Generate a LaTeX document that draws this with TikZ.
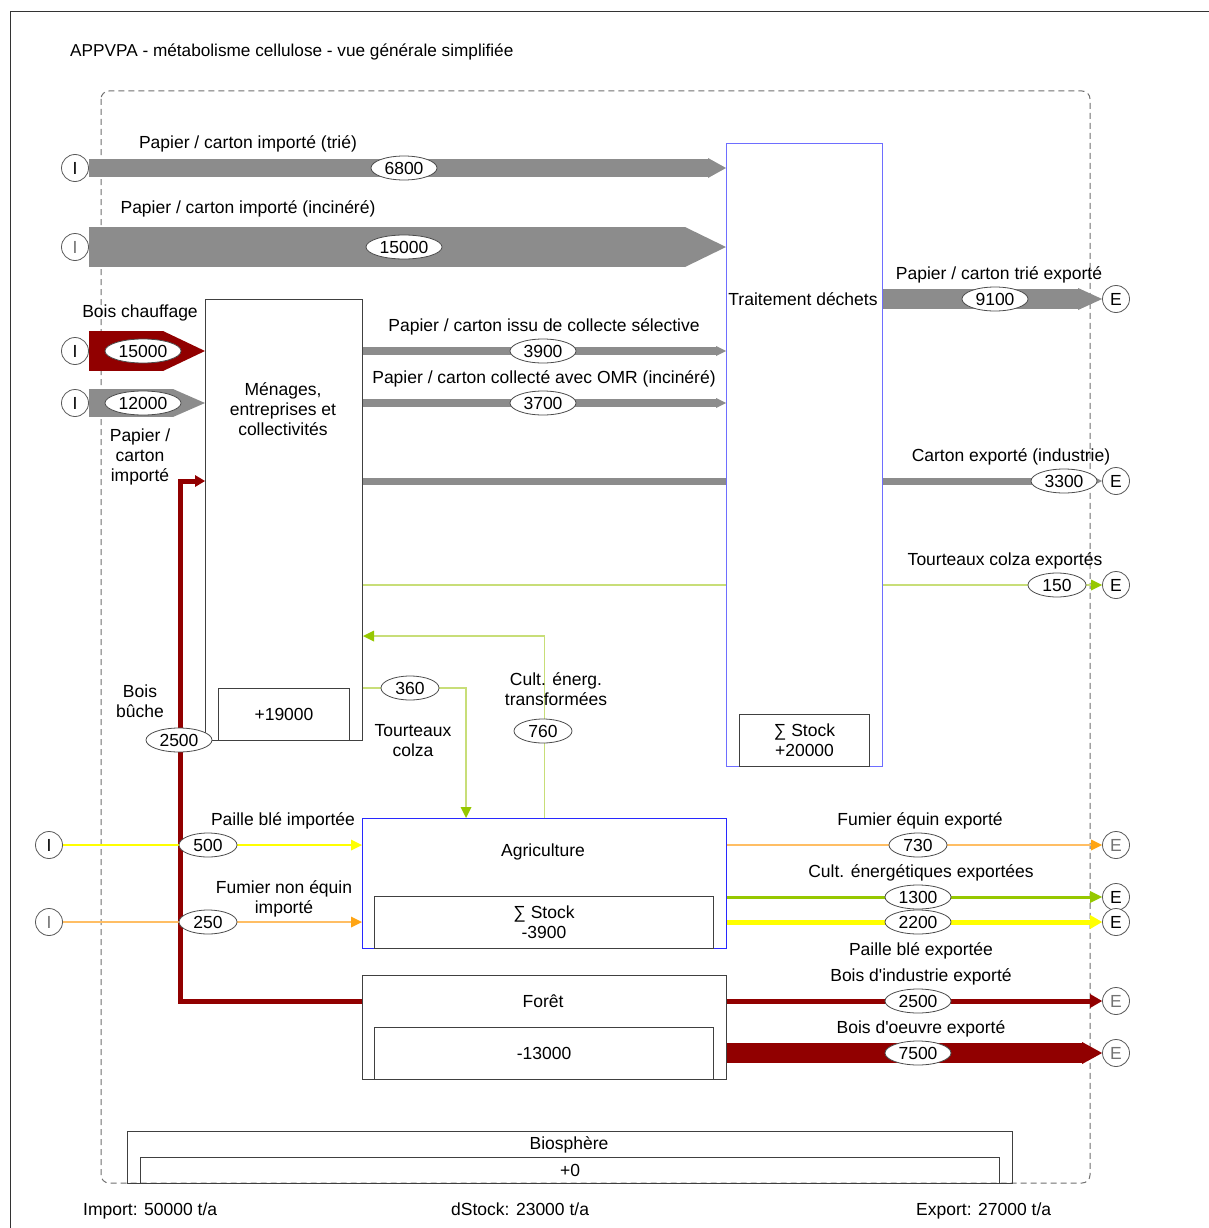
\documentclass[tikz,border=0pt]{standalone}
\usepackage{fontspec}
\setmainfont{Liberation Sans}
\usetikzlibrary{arrows.meta,shapes.geometric,calc}
\definecolor{bandgray}{RGB}{140,140,140}
\definecolor{dred}{RGB}{145,0,0}
\definecolor{lgreen}{RGB}{200,222,120}
\definecolor{tgreen}{RGB}{150,200,0}
\definecolor{cyellow}{RGB}{255,255,0}
\definecolor{corange}{RGB}{255,190,100}
\definecolor{torange}{RGB}{255,165,20}
\definecolor{bblue}{RGB}{110,110,255}
\definecolor{ablue}{RGB}{40,40,255}
\definecolor{frgray}{RGB}{110,110,110}
\begin{document}
\begin{tikzpicture}[x=1pt,y=-1pt,
  font=\fontsize{17.5}{20}\selectfont,
  io/.style={circle,draw=black!65,fill=white,line width=0.8pt,minimum size=27pt,inner sep=0pt},
  iolight/.style={io,text=black!55},
  num/.style={ellipse,draw=black!70,fill=white,line width=0.8pt,inner sep=0pt,minimum height=24pt},
  n3/.style={num,minimum width=58pt},
  n4/.style={num,minimum width=66pt},
  n5/.style={num,minimum width=76pt},
  procbox/.style={draw=black!75,line width=1pt,anchor=north west,inner sep=0pt,align=center},
  lbl/.style={align=center,inner sep=0pt},
  gband/.style={draw=bandgray,line width=#1},
  rband/.style={draw=dred,line width=#1},
  tip/.style 2 args={-{Triangle[length=#1pt,width=#2pt,line width=0pt]}},
  ctip/.style n args={3}{-{Triangle[length=#1pt,width=#2pt,line width=0pt,color=#3]}},
]
\useasboundingbox (0,0) rectangle (1209,1228);
% outer frame
\draw[black!80,line width=1pt] (10,1228) -- (10,12) -- (1209,12);
\node[anchor=base west,inner sep=0pt,font=\fontsize{17.2}{20}\selectfont] (title) at (70,57) {APPVPA - métabolisme cellulose - vue générale simplifiée};
% system boundary
\draw[frgray,line width=1pt,dash pattern=on 6pt off 4pt,rounded corners=8pt] (101,91) rectangle (1090,1183);

% process boxes
\node[procbox,minimum width=157pt,minimum height=441pt] (menage) at (205,299) {};
\node[procbox,minimum width=131pt,minimum height=52pt] (menst) at (218,688) {+19000};
\node[procbox,draw=bblue,minimum width=156pt,minimum height=623pt] (trait) at (726,143) {};
\node[procbox,minimum width=130pt,minimum height=52pt] (trst) at (739,714) {∑ Stock\\+20000};
\node[procbox,draw=ablue,minimum width=364pt,minimum height=130pt] (agri) at (362,818) {};
\node[procbox,minimum width=339pt,minimum height=52pt] (agst) at (374,896) {∑ Stock\\-3900};
\node[procbox,minimum width=364pt,minimum height=104pt] (foret) at (362,975) {};
\node[procbox,minimum width=339pt,minimum height=52pt] (fost) at (374,1027) {-13000};
\node[procbox,minimum width=885pt,minimum height=52pt] (bio) at (127,1131) {};
\node[procbox,minimum width=859pt,minimum height=26pt] (biost) at (140,1157) {+0};

\node[lbl] (menlbl) at (283,409) {Ménages,\\entreprises et\\collectivités};
\node[lbl] (trlbl) at (803,299) {Traitement déchets};
\node[lbl] (aglbl) at (543,852) {Agriculture};
\node[lbl] (folbl) at (543,1001) {Forêt};
\node[lbl] (biolbl) at (569,1145) {Biosphère};

% import / export terminals
\node[io] (I1) at (75,168) {I};
\node[iolight] (I2) at (75,247) {I};
\node[io] (I3) at (75,351) {I};
\node[io] (I4) at (75,403) {I};
\node[io] (I5) at (49,845) {I};
\node[iolight] (I6) at (49,922) {I};
\node[io] (E1) at (1116,299) {E};
\node[io] (E2) at (1116,481) {E};
\node[io] (E3) at (1116,585) {E};
\node[iolight] (E4) at (1116,845) {E};
\node[io] (E5) at (1116,897) {E};
\node[io] (E6) at (1116,922) {E};
\node[iolight] (E7) at (1116,1001) {E};
\node[iolight] (E8) at (1116,1053) {E};

% flows
\draw[gband=18pt,tip={18}{20}] (I1.east) -- (trait.west |- I1);
\draw[gband=40pt,tip={41}{40}] (I2.east) -- (trait.west |- I2);
\draw[rband=40pt,tip={42}{40}] (I3.east) -- (menage.west |- I3);
\draw[gband=28pt,tip={32}{28}] (I4.east) -- (menage.west |- I4);
\draw[gband=8pt,tip={10}{10}] (menage.east |- I3) -- (trait.west |- I3);
\draw[gband=8pt,tip={10}{10}] (menage.east |- I4) -- (trait.west |- I4);
\draw[gband=7pt] (menage.east |- E2) -- (trait.west |- E2);
\draw[gband=20pt,tip={24}{22}] (trait.east |- E1) -- (E1.west);
\draw[gband=7pt,tip={9}{9}] (trait.east |- E2) -- (E2.west);
\draw[lgreen,line width=1.2pt] (menage.east |- E3) -- (trait.west |- E3);
\draw[lgreen,line width=1.2pt,ctip={11}{11}{tgreen}] (trait.east |- E3) -- (E3.west);
\coordinate (m636) at ($(menage.north east)+(0,337)$);
\draw[lgreen,line width=1.2pt,ctip={11}{11}{tgreen}] (agri.north) |- (m636);
\coordinate (m688) at ($(menage.north east)+(0,389)$);
\coordinate (a466) at ($(agri.north west)+(104,0)$);
\draw[lgreen,line width=1.2pt,ctip={11}{11}{tgreen}] (m688) -| (a466);
\coordinate (f1001) at ($(foret.north west)+(0,26)$);
\draw[rband=5pt,tip={10}{12}] (f1001) -| ($(menage.west |- E2)+(-25,0)$) -- (menage.west |- E2);
\draw[cyellow,line width=1.5pt,ctip={11}{11}{cyellow}] (I5.east) -- (agri.west |- I5);
\draw[corange,line width=1.5pt,ctip={11}{11}{torange}] (I6.east) -- (agri.west |- I6);
\draw[corange,line width=1.5pt,ctip={11}{11}{torange}] (agri.east |- E4) -- (E4.west);
\draw[tgreen,line width=3pt,tip={12}{12}] (agri.east |- E5) -- (E5.west);
\draw[cyellow,line width=5pt,tip={12}{14}] (agri.east |- E6) -- (E6.west);
\draw[rband=5pt,tip={12}{14}] (foret.east |- E7) -- (E7.west);
\draw[rband=20pt,tip={20}{22}] (foret.east |- E8) -- (E8.west);

% values
\node[n4] (v1) at (404,168) {6800};
\node[n5] (v2) at (404,247) {15000};
\node[n5] (v3) at (143,351) {15000};
\node[n5] (v4) at (143,403) {12000};
\node[n4] (v5) at (543,351) {3900};
\node[n4] (v6) at (543,403) {3700};
\node[n4] (v7) at (995,299) {9100};
\node[n4] (v8) at (1064,481) {3300};
\node[n3] (v9) at (1057,585) {150};
\node[n3] (v10) at (543,731) {760};
\node[n3] (v11) at (410,688) {360};
\node[n4] (v12) at (179,740) {2500};
\node[n3] (v13) at (208,845) {500};
\node[n3] (v14) at (208,922) {250};
\node[n3] (v15) at (918,845) {730};
\node[n4] (v16) at (918,897) {1300};
\node[n4] (v17) at (918,922) {2200};
\node[n4] (v18) at (918,1001) {2500};
\node[n4] (v19) at (918,1053) {7500};

% flow names
\node[lbl] (t1) at (248,144) {Papier / carton importé (trié)};
\node[lbl] (t2) at (248,209) {Papier / carton importé (incinéré)};
\node[lbl] (t3) at (140,313) {Bois chauffage};
\node[lbl] (t4) at (140,457) {Papier /\\carton\\importé};
\node[lbl] (t5) at (544,327) {Papier / carton issu de collecte sélective};
\node[lbl] (t6) at (544,379) {Papier / carton collecté avec OMR (incinéré)};
\node[lbl] (t7) at (999,275) {Papier / carton trié exporté};
\node[lbl] (t8) at (1011,457) {Carton exporté (industrie)};
\node[lbl] (t9) at (1005,561) {Tourteaux colza exportés};
\node[lbl] (t10) at (556,689) {Cult. énerg.\\transformées};
\node[lbl] (t11) at (413,741) {Tourteaux\\colza};
\node[lbl] (t12) at (140,701) {Bois\\bûche};
\node[lbl] (t13) at (283,821) {Paille blé importée};
\node[lbl] (t14) at (284,899) {Fumier non équin\\importé};
\node[lbl] (t15) at (920,821) {Fumier équin exporté};
\node[lbl] (t16) at (921,873) {Cult. énergétiques exportées};
\node[lbl] (t17) at (921,951) {Paille blé exportée};
\node[lbl] (t18) at (921,977) {Bois d\textquotesingle industrie exporté};
\node[lbl] (t19) at (921,1029) {Bois d\textquotesingle oeuvre exporté};

% totals
\node[anchor=base west,inner sep=0pt] (imp) at (83,1215) {Import: 50000 t/a};
\node[anchor=base west,inner sep=0pt] (dst) at (451,1215) {dStock: 23000 t/a};
\node[anchor=base west,inner sep=0pt] (exp) at (916,1215) {Export: 27000 t/a};
\end{tikzpicture}
\end{document}
